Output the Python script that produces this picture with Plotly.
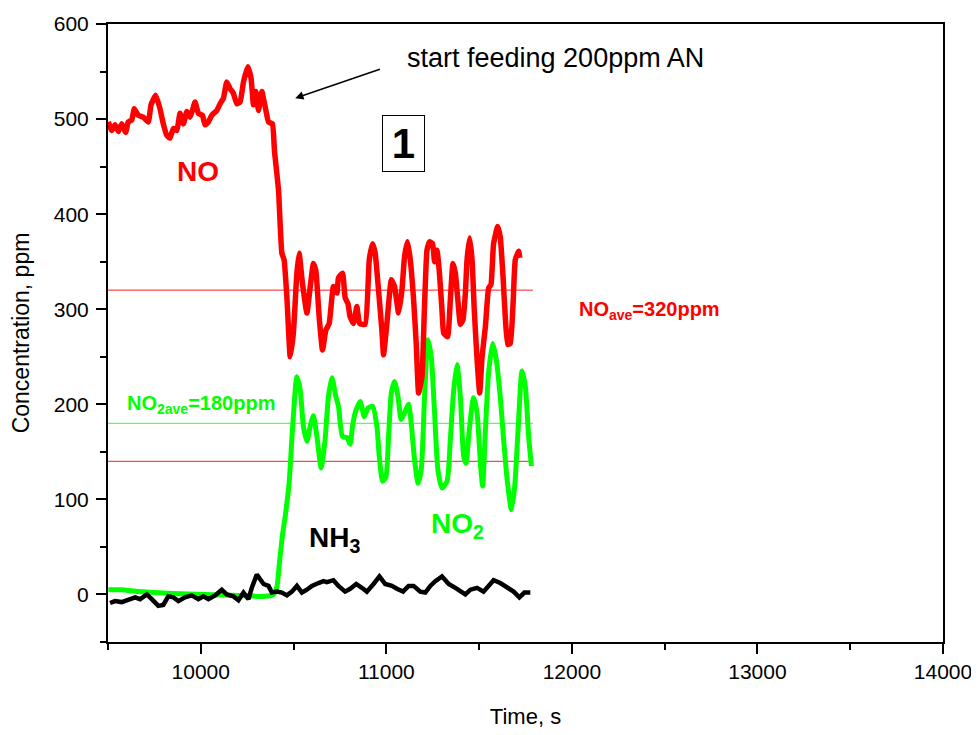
import plotly.graph_objects as go

# ---- data ----
no_t = [9502, 9520, 9538, 9556, 9574, 9595, 9609, 9628, 9642, 9663,
        9690, 9717, 9732, 9757, 9780, 9798, 9817, 9834, 9852, 9871,
        9888, 9906, 9925, 9942, 9955, 9969, 9987, 10009, 10023, 10041,
        10059, 10086, 10104, 10122, 10140, 10158, 10176, 10194, 10212, 10230,
        10254, 10271, 10284, 10297, 10311, 10329, 10347, 10365, 10386, 10397,
        10419, 10437, 10449, 10464, 10482, 10499, 10518, 10530, 10548, 10572,
        10590, 10607, 10620, 10638, 10656, 10674, 10692, 10715, 10734, 10742,
        10764, 10778, 10793, 10805, 10823, 10841, 10856, 10886, 10908, 10926,
        10940, 10958, 10976, 10985, 11003, 11027, 11044, 11066, 11084, 11098,
        11114, 11129, 11147, 11161, 11174, 11192, 11205, 11219, 11233, 11249,
        11260, 11273, 11285, 11300, 11309, 11330, 11345, 11359, 11372, 11384,
        11399, 11413, 11426, 11435, 11449, 11462, 11474, 11489, 11503, 11516,
        11534, 11551, 11564, 11578, 11600, 11614, 11629, 11641, 11654, 11668,
        11683, 11695, 11713, 11719]
no_v = [497, 488, 494, 487, 495, 486, 497, 499, 511, 504,
        502, 497, 515, 525, 511, 495, 483, 480, 490, 488,
        506, 495, 508, 502, 509, 518, 506, 504, 494, 497,
        504, 509, 516, 522, 539, 532, 527, 516, 518, 539,
        555, 543, 515, 529, 509, 529, 513, 497, 495, 467,
        425, 359, 352, 313, 250, 275, 338, 359, 327, 296,
        324, 348, 341, 292, 257, 278, 285, 324, 317, 333,
        338, 312, 306, 292, 285, 303, 285, 284, 352, 369,
        359, 320, 278, 252, 285, 331, 324, 296, 320, 355,
        371, 352, 310, 264, 212, 229, 299, 362, 371, 369,
        350, 362, 341, 299, 275, 271, 310, 348, 338, 313,
        284, 289, 317, 352, 375, 352, 299, 247, 212, 250,
        282, 322, 326, 369, 387, 376, 334, 292, 263, 264,
        306, 352, 361, 354]

no2_t = [9502, 9574, 9663, 9750, 9844, 10023, 10203, 10347, 10392, 10410,
         10425, 10440, 10455, 10476, 10494, 10518, 10536, 10553, 10572, 10590,
         10607, 10626, 10649, 10670, 10688, 10707, 10728, 10742, 10764, 10788,
         10805, 10818, 10832, 10859, 10881, 10901, 10926, 10949, 10962, 10980,
         10998, 11012, 11027, 11044, 11063, 11080, 11098, 11120, 11134, 11152,
         11171, 11188, 11206, 11224, 11242, 11260, 11278, 11300, 11327, 11345,
         11363, 11381, 11399, 11417, 11429, 11447, 11470, 11489, 11507, 11519,
         11534, 11551, 11573, 11591, 11614, 11632, 11651, 11674, 11692, 11710,
         11731, 11749, 11767, 11782]
no2_v = [5, 5, 3, 2, 1, 0, -1, -2, 0, 8,
         35, 62, 82, 117, 173, 229, 215, 177, 161, 177,
         188, 166, 133, 163, 208, 228, 208, 198, 166, 165,
         158, 177, 191, 203, 187, 196, 198, 177, 145, 119,
         124, 166, 212, 224, 208, 184, 191, 200, 180, 142,
         117, 131, 208, 268, 250, 191, 131, 112, 119, 163,
         215, 242, 208, 145, 138, 173, 207, 191, 138, 114,
         173, 233, 264, 249, 208, 163, 121, 89, 114, 173,
         235, 219, 166, 135]

nh3_t = [9511, 9538, 9574, 9609, 9646, 9673, 9709, 9736, 9771, 9798,
         9825, 9852, 9879, 9915, 9951, 9987, 10014, 10041, 10077, 10113,
         10140, 10176, 10203, 10230, 10257, 10275, 10302, 10320, 10338, 10365,
         10383, 10410, 10437, 10464, 10491, 10518, 10545, 10572, 10599, 10634,
         10661, 10679, 10715, 10742, 10778, 10805, 10838, 10868, 10895, 10931,
         10963, 10994, 11030, 11057, 11090, 11120, 11147, 11183, 11210, 11237,
         11264, 11300, 11336, 11372, 11399, 11426, 11453, 11489, 11524, 11551,
         11578, 11614, 11651, 11686, 11717, 11744, 11776]
nh3_v = [-9, -7, -8, -6, -3, -5, 0, -5, -12, -11,
         -2, -3, -7, -3, -1, -5, -2, -5, -1, 5,
         0, -2, -6, 2, -5, 7, 21, 16, 11, 9,
         2, 3, 2, -1, 3, 9, 2, 5, 9, 12,
         14, 13, 15, 9, 3, 6, 11, 7, 3, 11,
         19, 11, 9, 6, 3, 9, 9, 3, 2, 9,
         14, 19, 11, 7, 3, 0, 5, 7, 3, 9,
         15, 12, 7, 3, -3, 2, 2]

ref_t = [9500, 11790]      # span of the horizontal reference lines
no_ave = 320
no2_ave = 180
low_ref = 140

x_ticks = [10000, 11000, 12000, 13000, 14000]
y_ticks = [0, 100, 200, 300, 400, 500, 600]

FONT = "Liberation Sans, Arial, Helvetica, sans-serif"

fig = go.Figure()

# reference lines
fig.add_trace(go.Scatter(x=ref_t, y=[no_ave, no_ave], mode="lines",
                         line=dict(color="rgba(255,40,40,0.85)", width=1.3),
                         showlegend=False, hoverinfo="skip"))
fig.add_trace(go.Scatter(x=ref_t, y=[low_ref, low_ref], mode="lines",
                         line=dict(color="rgba(255,40,40,0.85)", width=1.3),
                         showlegend=False, hoverinfo="skip"))
fig.add_trace(go.Scatter(x=ref_t, y=[no2_ave, no2_ave], mode="lines",
                         line=dict(color="rgba(60,255,60,0.85)", width=1.3),
                         showlegend=False, hoverinfo="skip"))

# series
fig.add_trace(go.Scatter(x=no2_t, y=no2_v, mode="lines", name="NO2",
                         line=dict(color="#00ff00", width=5, shape="spline", smoothing=0.6),
                         showlegend=False))
fig.add_trace(go.Scatter(x=no_t, y=no_v, mode="lines", name="NO",
                         line=dict(color="#ff0000", width=5.5, shape="spline", smoothing=0.4),
                         showlegend=False))
fig.add_trace(go.Scatter(x=nh3_t, y=nh3_v, mode="lines", name="NH3",
                         line=dict(color="#000000", width=4.5),
                         showlegend=False))

ann = []
ann.append(dict(x=9985, y=445, xref="x", yref="y", text="<b>NO</b>", showarrow=False,
                font=dict(family=FONT, size=28, color="#ff0000")))
ann.append(dict(x=11102, y=564, xref="x", yref="y", text="start feeding 200ppm AN",
                xanchor="left", showarrow=False,
                font=dict(family=FONT, size=27, color="#000000")))
ann.append(dict(x=10509, y=522, ax=10973, ay=553, xref="x", yref="y", axref="x", ayref="y",
                text="", showarrow=True, arrowhead=2, arrowsize=1.1, arrowwidth=1.5,
                arrowcolor="#000000"))
ann.append(dict(x=11093, y=474.5, xref="x", yref="y", text="<b>1</b>", showarrow=False,
                width=41, height=55, bordercolor="#000000", borderwidth=1, borderpad=0,
                bgcolor="#ffffff",
                font=dict(family=FONT, size=42, color="#000000")))
ann.append(dict(x=12030, y=299, xref="x", yref="y", xanchor="left",
                text="<b>NO<sub>ave</sub>=320ppm</b>", showarrow=False,
                font=dict(family=FONT, size=20, color="#ff0000")))
ann.append(dict(x=9592, y=200, xref="x", yref="y", xanchor="left",
                text="<b>NO<sub>2ave</sub>=180ppm</b>", showarrow=False,
                font=dict(family=FONT, size=20, color="#00ff00")))
ann.append(dict(x=10573, y=58, xref="x", yref="y", xanchor="left",
                text="<b>NH<sub>3</sub></b>", showarrow=False,
                font=dict(family=FONT, size=28, color="#000000")))
ann.append(dict(x=11228, y=73, xref="x", yref="y", xanchor="left",
                text="<b>NO<sub>2</sub></b>", showarrow=False,
                font=dict(family=FONT, size=28, color="#00ff00")))

fig.update_layout(
    width=979, height=735,
    margin=dict(l=100, r=44, t=16, b=101),
    paper_bgcolor="white", plot_bgcolor="white",
    font=dict(family=FONT, color="#000000"),
    annotations=ann,
    showlegend=False,
)

fig.update_xaxes(range=[9500, 14000], tickvals=x_ticks, ticktext=[str(v) for v in x_ticks],
                 automargin=False,
                 showline=True, linecolor="#000000", linewidth=2, mirror=True,
                 ticks="outside", ticklen=10, tickwidth=2, tickcolor="#000000",
                 minor=dict(tickvals=[9500, 10500, 11500, 12500, 13500], ticks="outside",
                            ticklen=6, tickwidth=2, tickcolor="#000000"),
                 showgrid=False, zeroline=False,
                 tickfont=dict(family=FONT, size=21),
                 title=dict(text="Time, s", font=dict(family=FONT, size=22), standoff=26))
fig.update_yaxes(range=[-50, 600], tickvals=y_ticks, ticktext=[str(v) for v in y_ticks],
                 automargin=False,
                 showline=True, linecolor="#000000", linewidth=2, mirror=True,
                 ticks="outside", ticklen=10, tickwidth=2, tickcolor="#000000",
                 ticklabelstandoff=3,
                 minor=dict(tickvals=[-50, 50, 150, 250, 350, 450, 550], ticks="outside",
                            ticklen=6, tickwidth=2, tickcolor="#000000"),
                 showgrid=False, zeroline=False,
                 tickfont=dict(family=FONT, size=21),
                 title=dict(text="Concentration, ppm", font=dict(family=FONT, size=23), standoff=18))

fig.write_html("out.html")
